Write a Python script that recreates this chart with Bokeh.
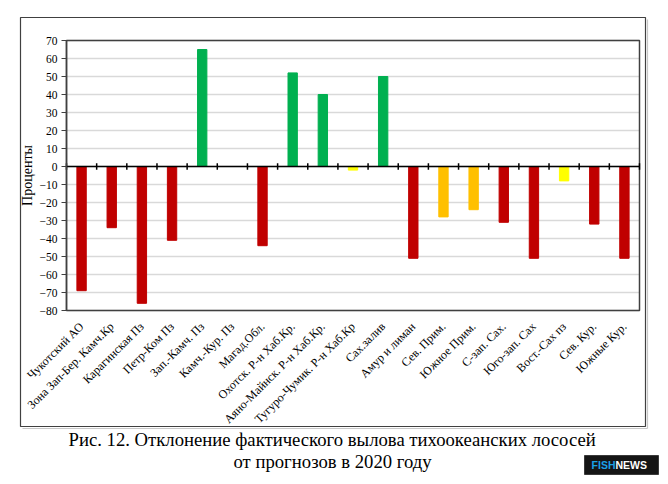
import math
from bokeh.plotting import figure
from bokeh.models import Range1d, FixedTicker, LinearAxis, ColumnDataSource
from bokeh.core.properties import value
from bokeh.embed import file_html
from bokeh.resources import INLINE

categories = ["Чукотский АО", "Зона Зап-Бер. Камч.Кр", "Карагинская Пз", "Петр-Ком Пз",
              "Зап.-Камч. Пз", "Камч.-Кур. Пз", "Магад.Обл.", "Охотск. Р-н Хаб.Кр.",
              "Аяно-Майнск. Р-н Хаб.Кр.", "Тугуро-Чумик. Р-н Хаб.Кр", "Сах.залив",
              "Амур и лиман", "Сев. Прим.", "Южное Прим.", "С-зап. Сах.", "Юго-зап. Сах",
              "Вост.-Сах пз", "Сев. Кур.", "Южные Кур."]
values = [-69, -34, -76, -41, 65, 0, -44, 52, 40, -2, 50, -51, -28, -24, -31, -51, -8, -32, -51]
y_ticks = list(range(-80, 71, 10))
caption1 = "Рис. 12. Отклонение фактического вылова тихоокеанских лососей"
caption2 = "от прогнозов в 2020 году"
logo_a, logo_b = "FISH", "NEWS"


def bar_color(v):
    if v > 0:
        return "#00B050"
    if v <= -30:
        return "#C00000"
    if v <= -20:
        return "#FFC000"
    return "#FFFF00"


n = len(categories)
y_min, y_max = y_ticks[0], y_ticks[-1]
centers = [i + 0.5 for i in range(n)]
bounds = list(range(n + 1))

# page layout (pixels): canvas size and plot-area placement
W, H = 668, 484
PL, PR, PT, PB = 66, 639, 40, 310
xs = (PR - PL) / n
ys = (PB - PT) / (y_max - y_min)


def px2x(px):
    return (px - PL) / xs


def py2y(py):
    return y_max - (py - PT) / ys


SERIF = "Liberation Serif"
SANS = "Liberation Sans"

p = figure(width=W, height=H, output_backend="svg", toolbar_location=None,
           x_range=Range1d(px2x(0), px2x(W)), y_range=Range1d(py2y(H), py2y(0)),
           x_axis_location=None, y_axis_location=None,
           min_border=0, min_border_left=0, min_border_right=0,
           min_border_top=0, min_border_bottom=0)
p.background_fill_color = "white"
p.border_fill_color = "white"
p.outline_line_color = None
p.xgrid.visible = False
p.ygrid.visible = False

# outer frame box
p.quad(left=[px2x(20)], right=[px2x(645)], top=[py2y(17)], bottom=[py2y(426)],
       fill_color=None, line_color="#404040", line_width=1.2)
# soft shadow of the outer frame
p.segment(x0=[px2x(647), px2x(22)], x1=[px2x(647), px2x(647)],
          y0=[py2y(19), py2y(428)], y1=[py2y(428), py2y(428)],
          line_color="#C8C8C8", line_width=1.2)

# horizontal grid
p.segment(x0=[0] * len(y_ticks), x1=[n] * len(y_ticks), y0=y_ticks, y1=y_ticks,
          line_color="#D9D9D9", line_width=1.5)

# bars
src = ColumnDataSource(dict(x=centers, top=values, color=[bar_color(v) for v in values]))
p.vbar(x="x", top="top", bottom=0, width=0.31, color="color", source=src)

# plot-area border
p.quad(left=[0], right=[n], bottom=[y_min], top=[y_max], fill_color=None,
       line_color="#404040", line_width=1.5)

# zero line with ticks at category boundaries
p.segment(x0=[0], x1=[n], y0=[0], y1=[0], line_color="black", line_width=1.5)
p.segment(x0=bounds, x1=bounds, y0=[-1.8] * len(bounds), y1=[1.8] * len(bounds),
          line_color="black", line_width=1.5)

# y axis
ya = LinearAxis(fixed_location=0, bounds=(y_min, y_max), ticker=FixedTicker(ticks=y_ticks))
ya.axis_line_color = "#404040"
ya.axis_line_width = 1.5
ya.major_tick_out = 5
ya.major_tick_in = 0
ya.major_tick_line_color = "#404040"
ya.minor_tick_line_color = None
ya.major_label_text_font = SERIF
ya.major_label_text_font_size = "11.5px"
ya.major_label_text_color = "black"
ya.major_label_standoff = 4
ya.axis_label = "Проценты"
ya.axis_label_text_font = SERIF
ya.axis_label_text_font_style = "normal"
ya.axis_label_text_font_size = "14px"
ya.axis_label_text_color = "black"
ya.axis_label_standoff = 2
p.add_layout(ya, "left")

# category labels
xa = LinearAxis(fixed_location=y_min, bounds=(0, n), ticker=FixedTicker(ticks=centers))
xa.major_label_overrides = {c: name for c, name in zip(centers, categories)}
xa.major_label_orientation = math.pi / 4
xa.axis_line_color = None
xa.major_tick_line_color = None
xa.minor_tick_line_color = None
xa.major_label_text_font = SERIF
xa.major_label_text_font_size = "12px"
xa.major_label_text_color = "black"
xa.major_label_standoff = 8
p.add_layout(xa, "below")

# caption
p.text(x=[px2x(68)], y=[py2y(439)], text=[caption1], text_align="left",
       text_baseline="middle", text_font=value(SERIF), text_font_size="18.7px",
       text_color="black")
p.text(x=[px2x(233)], y=[py2y(461)], text=[caption2], text_align="left",
       text_baseline="middle", text_font=value(SERIF), text_font_size="18.7px",
       text_color="black")

# logo
p.quad(left=[px2x(584)], right=[px2x(658)], top=[py2y(455)], bottom=[py2y(474)],
       fill_color="#151515", line_color="#3A3A3A", line_width=1)
p.text(x=[px2x(615)], y=[py2y(464.5)], text=[logo_a], text_align="right",
       text_baseline="middle", text_font=value(SANS), text_font_style="bold",
       text_font_size="10.5px", text_color="#1BA0E6")
p.text(x=[px2x(615)], y=[py2y(464.5)], text=[logo_b], text_align="left",
       text_baseline="middle", text_font=value(SANS), text_font_style="bold",
       text_font_size="10.5px", text_color="white")

open("out.html", "w").write(file_html(p, INLINE))
